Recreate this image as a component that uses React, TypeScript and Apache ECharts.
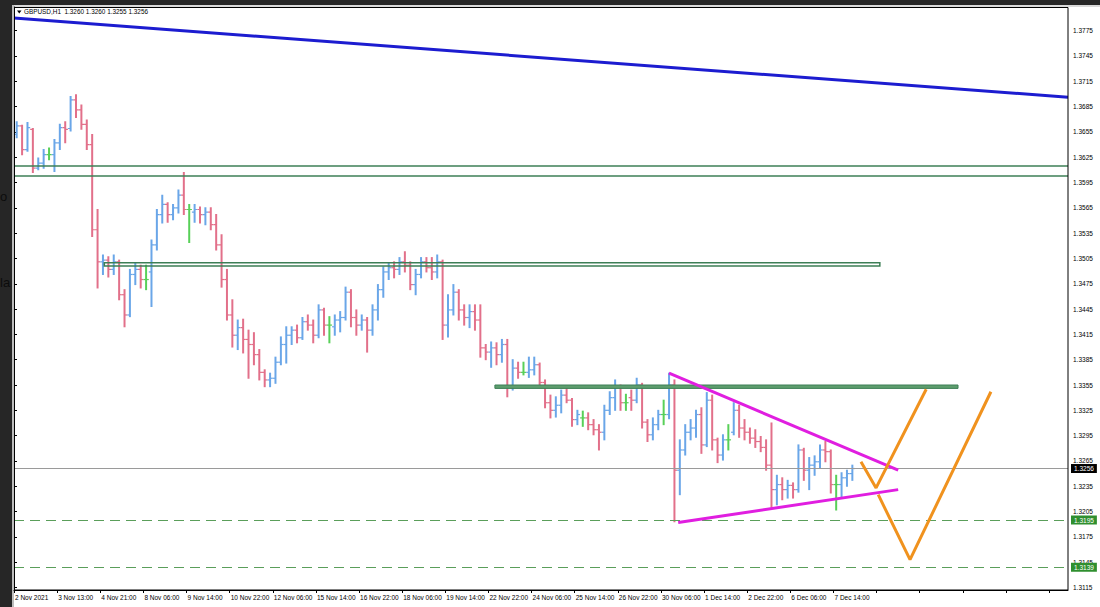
import React, { useEffect, useRef } from "react";
import * as echarts from "echarts";

// ---- time axis (4-hour bars, one label every 32 hours = 8 bars) ----
const timeLabels = [
  "2 Nov 2021", "3 Nov 13:00", "4 Nov 21:00", "8 Nov 06:00", "9 Nov 14:00",
  "10 Nov 22:00", "12 Nov 06:00", "15 Nov 14:00", "16 Nov 22:00", "18 Nov 06:00",
  "19 Nov 14:00", "22 Nov 22:00", "24 Nov 06:00", "25 Nov 14:00", "26 Nov 22:00",
  "30 Nov 06:00", "1 Dec 14:00", "2 Dec 22:00", "6 Dec 06:00", "7 Dec 14:00",
];
const BARS_PER_LABEL = 8;
const X_MAX = 195.5;
const Y_MIN = 1.3115;
const Y_MAX = 1.3803;
const Y_STEP = 0.003;

// ---- GBPUSD OHLC (4h bars) ----
const opens = [
  1.3652, 1.3662, 1.3634, 1.3658, 1.3612, 1.3618, 1.3628, 1.3628, 1.3642, 1.3660,
  1.3659, 1.3693, 1.3681, 1.3664, 1.3640, 1.3539, 1.3501, 1.3503, 1.3492, 1.3501,
  1.3462, 1.3438, 1.3486, 1.3492, 1.3480, 1.3489, 1.3521, 1.3557, 1.3569, 1.3557,
  1.3565, 1.3580, 1.3563, 1.3560, 1.3563, 1.3557, 1.3560, 1.3545, 1.3521, 1.3480,
  1.3438, 1.3414, 1.3423, 1.3409, 1.3403, 1.3391, 1.3370, 1.3361, 1.3363, 1.3382,
  1.3403, 1.3414, 1.3420, 1.3411, 1.3430, 1.3426, 1.3414, 1.3444, 1.3426, 1.3424,
  1.3432, 1.3435, 1.3465, 1.3435, 1.3426, 1.3432, 1.3420, 1.3444, 1.3468, 1.3489,
  1.3494, 1.3492, 1.3501, 1.3497, 1.3474, 1.3486, 1.3501, 1.3494, 1.3489, 1.3501,
  1.3426, 1.3444, 1.3465, 1.3444, 1.3435, 1.3442, 1.3432, 1.3399, 1.3394, 1.3399,
  1.3391, 1.3403, 1.3352, 1.3375, 1.3370, 1.3370, 1.3373, 1.3379, 1.3358, 1.3334,
  1.3325, 1.3331, 1.3343, 1.3337, 1.3314, 1.3316, 1.3316, 1.3308, 1.3302, 1.3299,
  1.3325, 1.3340, 1.3352, 1.3334, 1.3340, 1.3337, 1.3355, 1.3311, 1.3296, 1.3308,
  1.3320, 1.3320, 1.3355, 1.3254, 1.3278, 1.3299, 1.3304, 1.3320, 1.3284, 1.3337,
  1.3290, 1.3272, 1.3290, 1.3299, 1.3325, 1.3304, 1.3299, 1.3292, 1.3288, 1.3281,
  1.3260, 1.3231, 1.3237, 1.3231, 1.3236, 1.3231, 1.3278, 1.3254, 1.3260, 1.3264,
  1.3278, 1.3276, 1.3237, 1.3237, 1.3245, 1.3250,
];
const highs = [
  1.3667, 1.3663, 1.3666, 1.3659, 1.3624, 1.3634, 1.3636, 1.3646, 1.3664, 1.3667,
  1.3697, 1.3699, 1.3687, 1.3669, 1.3652, 1.3563, 1.3509, 1.3507, 1.3509, 1.3503,
  1.3468, 1.3492, 1.3500, 1.3497, 1.3497, 1.3527, 1.3563, 1.3580, 1.3571, 1.3569,
  1.3586, 1.3607, 1.3569, 1.3569, 1.3566, 1.3565, 1.3565, 1.3557, 1.3533, 1.3492,
  1.3456, 1.3432, 1.3433, 1.3420, 1.3417, 1.3397, 1.3373, 1.3369, 1.3388, 1.3412,
  1.3424, 1.3424, 1.3426, 1.3435, 1.3438, 1.3432, 1.3450, 1.3446, 1.3436, 1.3438,
  1.3442, 1.3471, 1.3468, 1.3444, 1.3438, 1.3435, 1.3450, 1.3474, 1.3495, 1.3500,
  1.3501, 1.3506, 1.3513, 1.3501, 1.3492, 1.3506, 1.3506, 1.3506, 1.3509, 1.3503,
  1.3462, 1.3474, 1.3468, 1.3450, 1.3450, 1.3450, 1.3450, 1.3403, 1.3406, 1.3405,
  1.3409, 1.3409, 1.3385, 1.3382, 1.3382, 1.3388, 1.3388, 1.3381, 1.3361, 1.3343,
  1.3341, 1.3349, 1.3352, 1.3339, 1.3325, 1.3324, 1.3322, 1.3314, 1.3308, 1.3331,
  1.3347, 1.3361, 1.3355, 1.3344, 1.3349, 1.3363, 1.3357, 1.3314, 1.3316, 1.3325,
  1.3337, 1.3369, 1.3361, 1.3290, 1.3308, 1.3314, 1.3325, 1.3328, 1.3346, 1.3343,
  1.3292, 1.3296, 1.3308, 1.3334, 1.3331, 1.3314, 1.3304, 1.3302, 1.3294, 1.3290,
  1.3310, 1.3248, 1.3245, 1.3242, 1.3239, 1.3284, 1.3280, 1.3269, 1.3271, 1.3284,
  1.3288, 1.3278, 1.3248, 1.3251, 1.3254, 1.3260,
];
const lows = [
  1.3648, 1.3628, 1.3632, 1.3607, 1.3610, 1.3612, 1.3622, 1.3608, 1.3634, 1.3642,
  1.3656, 1.3672, 1.3658, 1.3634, 1.3531, 1.3470, 1.3486, 1.3483, 1.3486, 1.3456,
  1.3424, 1.3436, 1.3474, 1.3470, 1.3468, 1.3448, 1.3515, 1.3547, 1.3548, 1.3551,
  1.3559, 1.3557, 1.3524, 1.3548, 1.3547, 1.3545, 1.3539, 1.3515, 1.3471, 1.3432,
  1.3400, 1.3397, 1.3393, 1.3363, 1.3379, 1.3361, 1.3353, 1.3353, 1.3357, 1.3379,
  1.3381, 1.3403, 1.3405, 1.3409, 1.3420, 1.3405, 1.3411, 1.3414, 1.3405, 1.3414,
  1.3418, 1.3432, 1.3424, 1.3414, 1.3420, 1.3394, 1.3414, 1.3432, 1.3459, 1.3480,
  1.3482, 1.3486, 1.3489, 1.3468, 1.3462, 1.3482, 1.3489, 1.3480, 1.3482, 1.3409,
  1.3412, 1.3438, 1.3432, 1.3426, 1.3423, 1.3420, 1.3388, 1.3385, 1.3376, 1.3379,
  1.3382, 1.3341, 1.3349, 1.3363, 1.3367, 1.3364, 1.3367, 1.3353, 1.3328, 1.3316,
  1.3317, 1.3322, 1.3334, 1.3306, 1.3308, 1.3306, 1.3302, 1.3296, 1.3278, 1.3290,
  1.3320, 1.3325, 1.3325, 1.3325, 1.3325, 1.3334, 1.3304, 1.3288, 1.3290, 1.3302,
  1.3308, 1.3315, 1.3193, 1.3225, 1.3272, 1.3290, 1.3293, 1.3274, 1.3282, 1.3278,
  1.3263, 1.3266, 1.3278, 1.3296, 1.3293, 1.3290, 1.3286, 1.3281, 1.3276, 1.3254,
  1.3210, 1.3213, 1.3219, 1.3221, 1.3221, 1.3228, 1.3242, 1.3231, 1.3248, 1.3257,
  1.3264, 1.3227, 1.3207, 1.3221, 1.3235, 1.3242,
];
const closes = [
  1.3662, 1.3634, 1.3660, 1.3612, 1.3618, 1.3628, 1.3628, 1.3642, 1.3660, 1.3658,
  1.3693, 1.3681, 1.3664, 1.3640, 1.3539, 1.3501, 1.3503, 1.3492, 1.3501, 1.3462,
  1.3438, 1.3486, 1.3492, 1.3480, 1.3480, 1.3521, 1.3557, 1.3569, 1.3557, 1.3565,
  1.3580, 1.3563, 1.3563, 1.3563, 1.3557, 1.3560, 1.3545, 1.3521, 1.3480, 1.3438,
  1.3414, 1.3423, 1.3409, 1.3403, 1.3391, 1.3370, 1.3361, 1.3363, 1.3382, 1.3403,
  1.3414, 1.3420, 1.3411, 1.3430, 1.3426, 1.3414, 1.3444, 1.3426, 1.3426, 1.3432,
  1.3435, 1.3465, 1.3435, 1.3426, 1.3432, 1.3420, 1.3444, 1.3468, 1.3489, 1.3494,
  1.3492, 1.3501, 1.3497, 1.3474, 1.3486, 1.3501, 1.3494, 1.3489, 1.3501, 1.3426,
  1.3444, 1.3465, 1.3444, 1.3435, 1.3442, 1.3432, 1.3399, 1.3394, 1.3399, 1.3391,
  1.3403, 1.3352, 1.3375, 1.3370, 1.3370, 1.3373, 1.3379, 1.3358, 1.3334, 1.3325,
  1.3331, 1.3343, 1.3337, 1.3314, 1.3320, 1.3316, 1.3308, 1.3302, 1.3299, 1.3325,
  1.3340, 1.3352, 1.3334, 1.3334, 1.3337, 1.3355, 1.3311, 1.3296, 1.3308, 1.3320,
  1.3320, 1.3355, 1.3254, 1.3278, 1.3299, 1.3304, 1.3320, 1.3284, 1.3337, 1.3290,
  1.3272, 1.3290, 1.3290, 1.3325, 1.3304, 1.3299, 1.3292, 1.3288, 1.3281, 1.3260,
  1.3231, 1.3237, 1.3231, 1.3236, 1.3231, 1.3278, 1.3254, 1.3260, 1.3264, 1.3278,
  1.3276, 1.3237, 1.3237, 1.3245, 1.3250, 1.3256,
];

// ---- drawn objects (x in bar units, y in price) ----
const trendBlue = [[0, 1.379], [195.5, 1.3696]];
const wedgeUpper = [[121.5, 1.3369], [164.0, 1.3254]];
const wedgeLower = [[123.2, 1.3192], [164.0, 1.3231]];
const pathSmall = [[157.1, 1.3264], [159.9, 1.3233], [169.2, 1.335]];
const pathLarge = [[160.3, 1.3225], [166.2, 1.3148], [181.2, 1.3347]];
const zoneTopLevels = [1.3615, 1.3603];
const zoneMid = { x: [16.75, 160.6], y: [1.35, 1.3496] };
const zoneLow = { x: [89.2, 175.1], y: [1.3355, 1.3351] };
const lastPrice = 1.3256;
const supportLevels = [1.3195, 1.3139];
const titleText = "GBPUSD,H1  1.3260 1.3260 1.3255 1.3256";

const UP = "#6aa6e8";
const DOWN = "#e2708a";
const DOJI = "#58d058";
const FONT = "Liberation Sans";

export default function App() {
  const ref = useRef<HTMLDivElement>(null);

  useEffect(() => {
    if (!ref.current) return;
    const chart = echarts.init(ref.current, undefined, { renderer: "svg" });
    const barData = opens.map((o, i) => [i + 0.5, o, highs[i], lows[i], closes[i]]);

    const renderItem = (params: any, api: any) => {
      const x = api.value(0);
      const o = api.value(1);
      const h = api.value(2);
      const l = api.value(3);
      const c = api.value(4);
      const pH = api.coord([x, h]);
      const pL = api.coord([x, l]);
      const pO = api.coord([x, o]);
      const pC = api.coord([x, c]);
      const color = c > o ? UP : c < o ? DOWN : DOJI;
      return {
        type: "group",
        children: [
          { type: "line", shape: { x1: pH[0], y1: pH[1] - 0.5, x2: pL[0], y2: pL[1] + 0.5 }, style: { stroke: color, lineWidth: 2 } },
          { type: "line", shape: { x1: pO[0] - 2.7, y1: pO[1], x2: pO[0], y2: pO[1] }, style: { stroke: color, lineWidth: 1.2 } },
          { type: "line", shape: { x1: pC[0], y1: pC[1], x2: pC[0] + 2.7, y2: pC[1] }, style: { stroke: color, lineWidth: 1.2 } },
        ],
      };
    };

    const lvlLabel = (bg: string, fg: string) => ({
      show: true,
      position: "end",
      distance: 3,
      formatter: (p: any) => Number(p.value).toFixed(4),
      backgroundColor: bg,
      color: fg,
      padding: [1, 3, 1, 3],
      fontSize: 6.5,
      fontFamily: FONT,
    });

    const option: any = {
      animation: false,
      backgroundColor: "#ffffff",
      textStyle: { fontFamily: FONT },
      grid: { left: 14, right: 32, top: 7, bottom: 19.5 },
      xAxis: {
        type: "value",
        min: 0,
        max: X_MAX,
        interval: BARS_PER_LABEL,
        offset: 2.5,
        axisLine: { show: true, lineStyle: { color: "#000", width: 1 } },
        axisTick: { show: true, length: 3, lineStyle: { color: "#000" } },
        splitLine: { show: false },
        axisLabel: {
          formatter: (v: number) => {
            const k = Math.round(v / BARS_PER_LABEL);
            return Math.abs(v - k * BARS_PER_LABEL) < 1e-6 && k < timeLabels.length ? timeLabels[k] : "";
          },
          align: "left",
          margin: 4,
          fontSize: 6.5,
          color: "#000",
          fontFamily: FONT,
          showMaxLabel: false,
          padding: [0, 0, 0, 1],
        },
      },
      yAxis: {
        type: "value",
        position: "right",
        min: Y_MIN,
        max: Y_MAX,
        interval: Y_STEP,
        axisLine: { show: true, lineStyle: { color: "#000" } },
        axisTick: { show: true, length: 3, lineStyle: { color: "#000" } },
        splitLine: { show: false },
        axisLabel: {
          formatter: (v: number) => v.toFixed(4),
          fontSize: 6.5,
          color: "#000",
          margin: 5,
          fontFamily: FONT,
          showMaxLabel: false,
        },
      },
      graphic: [
        { type: "rect", shape: { x: 0, y: 0, width: 12, height: 607 }, style: { fill: "#262626" } },
        { type: "rect", shape: { x: 0, y: 0, width: 1100, height: 5 }, style: { fill: "#262626" } },
        { type: "rect", shape: { x: 12, y: 5, width: 2, height: 602 }, style: { fill: "#bdbdbd" } },
        { type: "rect", shape: { x: 14, y: 5, width: 1086, height: 2 }, style: { fill: "#d9d9d9" } },
        { type: "text", x: 0, y: 276, style: { text: "la", fill: "#0c0c0c", font: "13px Liberation Sans" } },
        { type: "text", x: 0, y: 190, style: { text: "o", fill: "#0c0c0c", font: "13px Liberation Sans" } },
        {
          type: "rect",
          shape: { x: 14.5, y: 7.5, width: 1053.5, height: 582.5 },
          style: { fill: "none", stroke: "#000", lineWidth: 1 },
          z: 20,
        },
        { type: "polygon", shape: { points: [[17, 10.5], [21.5, 10.5], [19.25, 13.5]] }, style: { fill: "#000" }, z: 20 },
        { type: "text", x: 24, y: 8.5, style: { text: titleText, fill: "#000", font: "6.4px Liberation Sans" }, z: 20 },
      ],
      series: [
        {
          type: "custom",
          name: "GBPUSD",
          renderItem,
          data: barData,
          encode: { x: 0, y: [1, 2, 3, 4] },
          clip: true,
          z: 3,
        },
        {
          type: "line",
          name: "trend",
          data: trendBlue,
          showSymbol: false,
          symbol: "none",
          lineStyle: { color: "#1c1cd0", width: 3 },
          z: 4,
          markArea: {
            silent: true,
            z: 4,
            label: { show: false },
            data: [
              [
                { coord: [zoneMid.x[0], zoneMid.y[0]], itemStyle: { color: "rgba(255,255,255,0)", borderColor: "#3d7f56", borderWidth: 1.5 } },
                { coord: [zoneMid.x[1], zoneMid.y[1]] },
              ],
              [
                { coord: [zoneLow.x[0], zoneLow.y[0]], itemStyle: { color: "#5e9e6e", borderColor: "#3d7f56", borderWidth: 1 } },
                { coord: [zoneLow.x[1], zoneLow.y[1]] },
              ],
            ],
          },
          markLine: {
            silent: true,
            symbol: ["none", "none"],
            precision: 4,
            z: 5,
            data: [
              ...zoneTopLevels.map((v) => ({ yAxis: v, lineStyle: { color: "#3d7f56", width: 1.5, type: "solid" }, label: { show: false } })),
              { yAxis: lastPrice, lineStyle: { color: "#9a9a9a", width: 1, type: "solid" }, label: lvlLabel("#000000", "#ffffff") },
              ...supportLevels.map((v) => ({ yAxis: v, lineStyle: { color: "#5a9e5a", width: 1, type: [10, 6] }, label: lvlLabel("#2f8f2f", "#ffffff") })),
            ],
          },
        },
        { type: "line", data: wedgeUpper, showSymbol: false, symbol: "none", lineStyle: { color: "#e01ee0", width: 3 }, z: 6 },
        { type: "line", data: wedgeLower, showSymbol: false, symbol: "none", lineStyle: { color: "#e01ee0", width: 3 }, z: 6 },
        { type: "line", data: pathSmall, showSymbol: false, symbol: "none", lineStyle: { color: "#f0921e", width: 3 }, z: 6 },
        { type: "line", data: pathLarge, showSymbol: false, symbol: "none", lineStyle: { color: "#f0921e", width: 3 }, z: 6 },
      ],
    };

    chart.setOption(option);
    return () => chart.dispose();
  }, []);

  return (
    <div
      ref={ref}
      style={{ position: "absolute", left: 0, top: 0, width: 1100, height: 607, background: "#fff" }}
    />
  );
}
